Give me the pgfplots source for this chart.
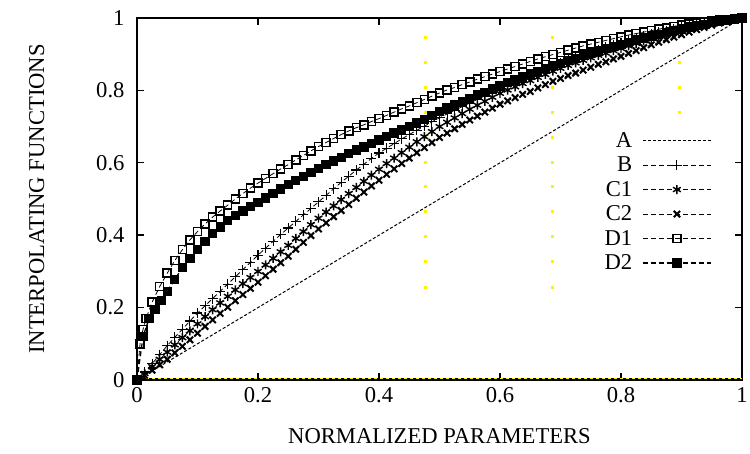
\documentclass[border=0pt]{standalone}
\usepackage{fontspec}
\setmainfont{Liberation Serif}
\usepackage{pgfplots}
\pgfplotsset{compat=1.18}
\usetikzlibrary{calc}
\begin{document}
\begin{tikzpicture}
\begin{axis}[
  scale only axis, width=605bp, height=362bp,
  xmin=0, xmax=1, ymin=0, ymax=1,
  xtick={0,0.2,0.4,0.6,0.8,1}, ytick={0,0.2,0.4,0.6,0.8,1},
  tick align=inside, major tick length=7bp,
  tick style={line width=1.4bp, black},
  axis line style={line width=1.6bp},
  /pgf/number format/assume math mode=true,
  ticklabel style={font=\fontsize{22.7}{26}\selectfont},
  xticklabel style={yshift=-4bp}, yticklabel style={xshift=-9bp},
  xlabel={NORMALIZED PARAMETERS}, ylabel={INTERPOLATING FUNCTIONS},
  label style={font=\fontsize{22.7}{26}\selectfont},
  xlabel style={yshift=-19bp}, ylabel style={yshift=45bp},
  clip=false,
  legend style={draw=none, fill=none, at={(rel axis cs:0.95,0.684)}, anchor=north east,
    font=\fontsize{22.7}{26}\selectfont, row sep=8bp, column sep=10bp, inner sep=0pt,
    nodes={inner sep=0pt}},
  legend cell align=right, legend plot pos=right,
  legend image code/.code={\draw[mark repeat=2,mark phase=2] plot coordinates {(0bp,0bp) (34bp,0bp) (68bp,0bp)};},
  every axis plot/.append style={black},
]
% yellow dotted guide lines
\addplot[forget plot, only marks, mark=square*, mark size=1bp, color=yellow] coordinates {
 (0.477,0.948) (0.477,0.879) (0.477,0.810) (0.477,0.741) (0.477,0.672) (0.477,0.603)
 (0.477,0.534) (0.477,0.465) (0.477,0.396) (0.477,0.327) (0.477,0.257)
 (0.687,0.948) (0.687,0.879) (0.687,0.810) (0.687,0.741) (0.687,0.672) (0.687,0.603)
 (0.687,0.534) (0.687,0.465) (0.687,0.396) (0.687,0.327) (0.687,0.257)
 (0.896,0.879) (0.896,0.810) (0.896,0.741)};
\addplot[forget plot, yellow, line width=1.4bp, dash pattern=on 3bp off 3bp, dash phase=3bp] coordinates {(0,0.004) (1,0.004)};
\addplot[forget plot, black, line width=1.4bp, dash pattern=on 3bp off 3bp] coordinates {(0,0.004) (1,0.004)};

\addplot[line width=1bp, dash pattern=on 3bp off 2bp] coordinates {(0,0) (1,1)};
\addlegendentry{A}
\addplot[line width=0.8bp, dash pattern=on 5bp off 3bp, mark=+, mark size=5bp, mark options={solid, line width=1.1bp}] coordinates {
(0,0) (0.0125,0.022) (0.025,0.045) (0.0375,0.07) (0.05,0.095) (0.0625,0.118) (0.075,0.14) (0.0875,0.163) (0.1,0.185) (0.1125,0.205) (0.125,0.225) (0.1375,0.245) (0.15,0.265) (0.1625,0.285) (0.175,0.305) (0.1875,0.325) (0.2,0.345) (0.2125,0.364) (0.225,0.383) (0.2375,0.402) (0.25,0.42) (0.2625,0.438) (0.275,0.456) (0.2875,0.474) (0.3,0.492) (0.3125,0.51) (0.325,0.528) (0.3375,0.546) (0.35,0.563) (0.3625,0.58) (0.375,0.596) (0.3875,0.612) (0.4,0.627) (0.4125,0.64) (0.425,0.653) (0.4375,0.666) (0.45,0.678) (0.4625,0.69) (0.475,0.701) (0.4875,0.713) (0.5,0.724) (0.5125,0.735) (0.525,0.745) (0.5375,0.755) (0.55,0.765) (0.5625,0.775) (0.575,0.785) (0.5875,0.795) (0.6,0.805) (0.6125,0.815) (0.625,0.824) (0.6375,0.833) (0.65,0.842) (0.6625,0.851) (0.675,0.859) (0.6875,0.867) (0.7,0.875) (0.7125,0.883) (0.725,0.89) (0.7375,0.898) (0.75,0.905) (0.7625,0.912) (0.775,0.919) (0.7875,0.926) (0.8,0.932) (0.8125,0.938) (0.825,0.944) (0.8375,0.95) (0.85,0.955) (0.8625,0.96) (0.875,0.965) (0.8875,0.97) (0.9,0.974) (0.9125,0.978) (0.925,0.982) (0.9375,0.986) (0.95,0.989) (0.9625,0.992) (0.975,0.995) (0.9875,0.998) (1,1)};
\addlegendentry{B}
\addplot[line width=0.8bp, dash pattern=on 5bp off 3bp, mark=asterisk, mark size=4.5bp, mark options={solid, line width=1.4bp}] coordinates {
(0,0) (0.0125,0.018) (0.025,0.037) (0.0375,0.057) (0.05,0.077) (0.0625,0.097) (0.075,0.117) (0.0875,0.136) (0.1,0.155) (0.1125,0.175) (0.125,0.194) (0.1375,0.213) (0.15,0.231) (0.1625,0.249) (0.175,0.266) (0.1875,0.283) (0.2,0.30) (0.2125,0.318) (0.225,0.336) (0.2375,0.354) (0.25,0.372) (0.2625,0.391) (0.275,0.41) (0.2875,0.429) (0.3,0.447) (0.3125,0.464) (0.325,0.481) (0.3375,0.498) (0.35,0.515) (0.3625,0.532) (0.375,0.549) (0.3875,0.566) (0.4,0.582) (0.4125,0.598) (0.425,0.613) (0.4375,0.628) (0.45,0.643) (0.4625,0.658) (0.475,0.672) (0.4875,0.686) (0.5,0.70) (0.5125,0.712) (0.525,0.724) (0.5375,0.736) (0.55,0.748) (0.5625,0.759) (0.575,0.77) (0.5875,0.781) (0.6,0.792) (0.6125,0.801) (0.625,0.81) (0.6375,0.819) (0.65,0.827) (0.6625,0.836) (0.675,0.844) (0.6875,0.853) (0.7,0.861) (0.7125,0.869) (0.725,0.876) (0.7375,0.883) (0.75,0.89) (0.7625,0.897) (0.775,0.903) (0.7875,0.91) (0.8,0.916) (0.8125,0.923) (0.825,0.93) (0.8375,0.937) (0.85,0.944) (0.8625,0.95) (0.875,0.956) (0.8875,0.962) (0.9,0.968) (0.9125,0.973) (0.925,0.978) (0.9375,0.983) (0.95,0.988) (0.9625,0.992) (0.975,0.995) (0.9875,0.998) (1,1)};
\addlegendentry{C1}
\addplot[line width=0.8bp, dash pattern=on 5bp off 3bp, mark=x, mark size=4.5bp, mark options={solid, line width=2bp}] coordinates {
(0,0) (0.0125,0.013) (0.025,0.027) (0.0375,0.042) (0.05,0.057) (0.0625,0.075) (0.075,0.093) (0.0875,0.111) (0.1,0.129) (0.1125,0.148) (0.125,0.166) (0.1375,0.184) (0.15,0.201) (0.1625,0.219) (0.175,0.236) (0.1875,0.253) (0.2,0.27) (0.2125,0.288) (0.225,0.306) (0.2375,0.324) (0.25,0.342) (0.2625,0.361) (0.275,0.38) (0.2875,0.399) (0.3,0.417) (0.3125,0.434) (0.325,0.451) (0.3375,0.468) (0.35,0.485) (0.3625,0.502) (0.375,0.519) (0.3875,0.536) (0.4,0.552) (0.4125,0.568) (0.425,0.583) (0.4375,0.598) (0.45,0.613) (0.4625,0.628) (0.475,0.642) (0.4875,0.656) (0.5,0.67) (0.5125,0.682) (0.525,0.694) (0.5375,0.706) (0.55,0.718) (0.5625,0.729) (0.575,0.74) (0.5875,0.751) (0.6,0.762) (0.6125,0.771) (0.625,0.78) (0.6375,0.789) (0.65,0.797) (0.6625,0.807) (0.675,0.816) (0.6875,0.825) (0.7,0.833) (0.7125,0.841) (0.725,0.848) (0.7375,0.856) (0.75,0.864) (0.7625,0.872) (0.775,0.879) (0.7875,0.887) (0.8,0.894) (0.8125,0.902) (0.825,0.91) (0.8375,0.918) (0.85,0.926) (0.8625,0.933) (0.875,0.94) (0.8875,0.947) (0.9,0.954) (0.9125,0.961) (0.925,0.968) (0.9375,0.974) (0.95,0.98) (0.9625,0.986) (0.975,0.991) (0.9875,0.996) (1,1)};
\addlegendentry{C2}
\addplot[line width=0.8bp, dash pattern=on 5bp off 3bp, mark=square, mark size=4bp, mark options={solid, line width=1.5bp}] coordinates {
(0,0) (0.005,0.10) (0.01,0.14) (0.015,0.17) (0.025,0.215) (0.0375,0.258) (0.05,0.295) (0.0625,0.33) (0.075,0.36) (0.0875,0.387) (0.1,0.41) (0.1125,0.431) (0.125,0.45) (0.1375,0.467) (0.15,0.483) (0.1625,0.5) (0.175,0.515) (0.1875,0.53) (0.2,0.544) (0.2125,0.557) (0.225,0.57) (0.2375,0.583) (0.25,0.595) (0.2625,0.608) (0.275,0.62) (0.2875,0.633) (0.3,0.645) (0.3125,0.656) (0.325,0.667) (0.3375,0.678) (0.35,0.688) (0.3625,0.697) (0.375,0.705) (0.3875,0.714) (0.4,0.722) (0.4125,0.731) (0.425,0.74) (0.4375,0.749) (0.45,0.757) (0.4625,0.766) (0.475,0.775) (0.4875,0.784) (0.5,0.793) (0.5125,0.801) (0.525,0.808) (0.5375,0.816) (0.55,0.823) (0.5625,0.831) (0.575,0.838) (0.5875,0.845) (0.6,0.852) (0.6125,0.859) (0.625,0.866) (0.6375,0.873) (0.65,0.88) (0.6625,0.887) (0.675,0.893) (0.6875,0.899) (0.7,0.905) (0.7125,0.911) (0.725,0.917) (0.7375,0.923) (0.75,0.928) (0.7625,0.933) (0.775,0.938) (0.7875,0.943) (0.8,0.948) (0.8125,0.953) (0.825,0.957) (0.8375,0.961) (0.85,0.965) (0.8625,0.969) (0.875,0.973) (0.8875,0.977) (0.9,0.98) (0.9125,0.983) (0.925,0.986) (0.9375,0.989) (0.95,0.992) (0.9625,0.994) (0.975,0.996) (0.9875,0.998) (1,1)};
\addlegendentry{D1}
\addplot[line width=1.3bp, dash pattern=on 5bp off 3bp, mark=square*, mark size=4bp, mark options={solid}] coordinates {
(0,0) (0.01,0.12) (0.02,0.17) (0.03,0.195) (0.04,0.22) (0.05,0.245) (0.0625,0.278) (0.075,0.31) (0.0875,0.336) (0.1,0.36) (0.1125,0.383) (0.125,0.405) (0.1375,0.423) (0.15,0.44) (0.1625,0.454) (0.175,0.467) (0.1875,0.479) (0.2,0.49) (0.2125,0.503) (0.225,0.516) (0.2375,0.528) (0.25,0.54) (0.2625,0.552) (0.275,0.563) (0.2875,0.574) (0.3,0.585) (0.3125,0.595) (0.325,0.605) (0.3375,0.615) (0.35,0.625) (0.3625,0.635) (0.375,0.644) (0.3875,0.654) (0.4,0.663) (0.4125,0.673) (0.425,0.682) (0.4375,0.691) (0.45,0.70) (0.4625,0.71) (0.475,0.72) (0.4875,0.731) (0.5,0.742) (0.5125,0.751) (0.525,0.76) (0.5375,0.769) (0.55,0.778) (0.5625,0.787) (0.575,0.795) (0.5875,0.804) (0.6,0.812) (0.6125,0.821) (0.625,0.829) (0.6375,0.837) (0.65,0.845) (0.6625,0.853) (0.675,0.86) (0.6875,0.868) (0.7,0.875) (0.7125,0.882) (0.725,0.889) (0.7375,0.896) (0.75,0.902) (0.7625,0.909) (0.775,0.915) (0.7875,0.921) (0.8,0.927) (0.8125,0.933) (0.825,0.939) (0.8375,0.945) (0.85,0.95) (0.8625,0.955) (0.875,0.96) (0.8875,0.965) (0.9,0.97) (0.9125,0.975) (0.925,0.979) (0.9375,0.983) (0.95,0.987) (0.9625,0.991) (0.975,0.994) (0.9875,0.997) (1,1)};
\addlegendentry{D2}
\coordinate (SW) at (rel axis cs:0,0);
\coordinate (NE) at (rel axis cs:1,1);
\end{axis}
\pgfresetboundingbox
\path ($(SW)+(-137bp,-74bp)$) rectangle ($(NE)+(8bp,18bp)$);
\end{tikzpicture}
\end{document}
